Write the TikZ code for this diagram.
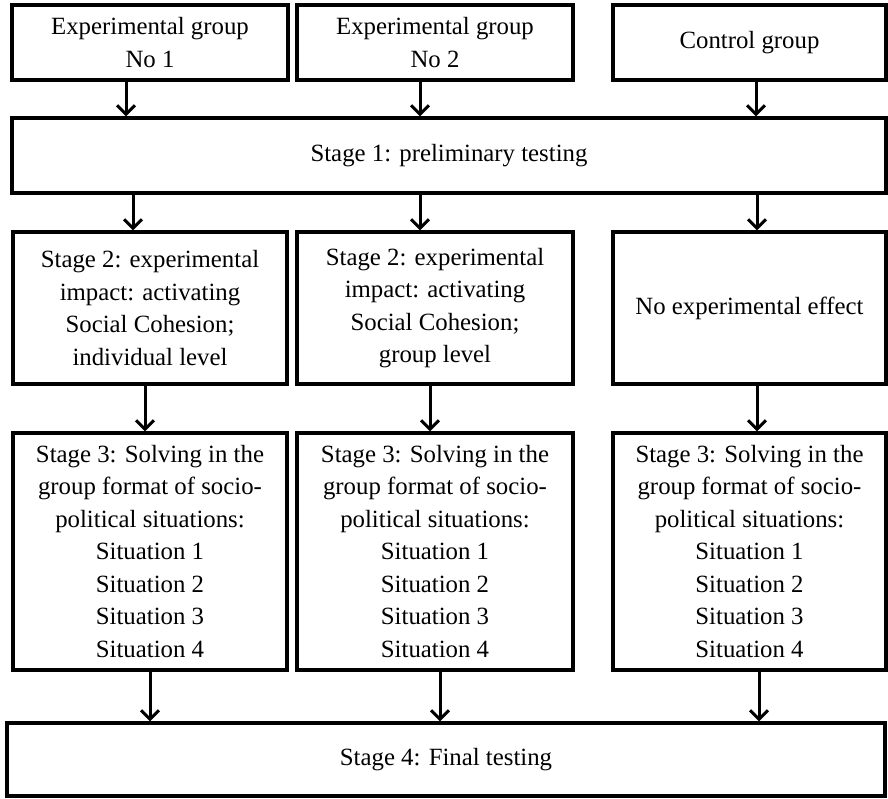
\documentclass[tikz,border=0pt]{standalone}
\usepackage{fontspec}
\setmainfont{Liberation Serif}
\usetikzlibrary{arrows.meta}
\begin{document}
\begin{tikzpicture}[x=1pt,y=-1pt,
  box/.style={draw,line width=3.2pt,inner sep=0pt,align=center,
    font=\fontsize{24.8}{32.5}\selectfont},
  arr/.style={line width=3pt,-{Straight Barb[length=9pt,width=18pt]}}]
\fill[white] (0,0) rectangle (888,798);
\useasboundingbox (0,0) rectangle (888,798);
% row 1
\node[box,minimum width=276pt,minimum height=75pt] (g1) at (150,42.5) {Experimental group\\No 1};
\node[box,minimum width=276pt,minimum height=75pt] (g2) at (435,42.5) {Experimental group\\No 2};
\node[box,minimum width=273pt,minimum height=75pt] (g3) at (749.5,42.5) {Control group};
% stage 1
\node[box,minimum width=874pt,minimum height=75pt] (s1) at (449,155.5) {Stage 1: preliminary testing};
% row 3
\node[box,minimum width=274pt,minimum height=152pt] (e1) at (150,308) {Stage 2: experimental\\impact: activating\\Social Cohesion;\\individual level};
\node[box,minimum width=276pt,minimum height=152pt] (e2) at (435,308) {Stage 2: experimental\\impact: activating\\Social Cohesion;\\group level};
\node[box,minimum width=273pt,minimum height=152pt] (e3) at (749.5,308) {No experimental effect};
% row 4
\node[box,minimum width=274pt,minimum height=237pt] (t1) at (150,551.5) {Stage 3: Solving in the\\group format of socio-\\political situations:\\Situation 1\\Situation 2\\Situation 3\\Situation 4};
\node[box,minimum width=276pt,minimum height=237pt] (t2) at (435,551.5) {Stage 3: Solving in the\\group format of socio-\\political situations:\\Situation 1\\Situation 2\\Situation 3\\Situation 4};
\node[box,minimum width=273pt,minimum height=237pt] (t3) at (749.5,551.5) {Stage 3: Solving in the\\group format of socio-\\political situations:\\Situation 1\\Situation 2\\Situation 3\\Situation 4};
% stage 4
\node[box,minimum width=878pt,minimum height=73pt] (s4) at (446,759.5) {Stage 4: Final testing};
% arrow x positions
\coordinate (a1) at (126,0); \coordinate (a2) at (420,0); \coordinate (a3) at (756,0);
\coordinate (b1) at (133,0); \coordinate (b2) at (420,0); \coordinate (b3) at (757,0);
\coordinate (c1) at (145,0); \coordinate (c2) at (430,0); \coordinate (c3) at (757,0);
\coordinate (d1) at (150,0); \coordinate (d2) at (440,0); \coordinate (d3) at (759,0);
\draw[arr] (g1.south -| a1) -- (s1.north -| a1);
\draw[arr] (g2.south -| a2) -- (s1.north -| a2);
\draw[arr] (g3.south -| a3) -- (s1.north -| a3);
\draw[arr] (s1.south -| b1) -- (e1.north -| b1);
\draw[arr] (s1.south -| b2) -- (e2.north -| b2);
\draw[arr] (s1.south -| b3) -- (e3.north -| b3);
\draw[arr] (e1.south -| c1) -- (t1.north -| c1);
\draw[arr] (e2.south -| c2) -- (t2.north -| c2);
\draw[arr] (e3.south -| c3) -- (t3.north -| c3);
\draw[arr] (t1.south -| d1) -- (s4.north -| d1);
\draw[arr] (t2.south -| d2) -- (s4.north -| d2);
\draw[arr] (t3.south -| d3) -- (s4.north -| d3);
\end{tikzpicture}
\end{document}
